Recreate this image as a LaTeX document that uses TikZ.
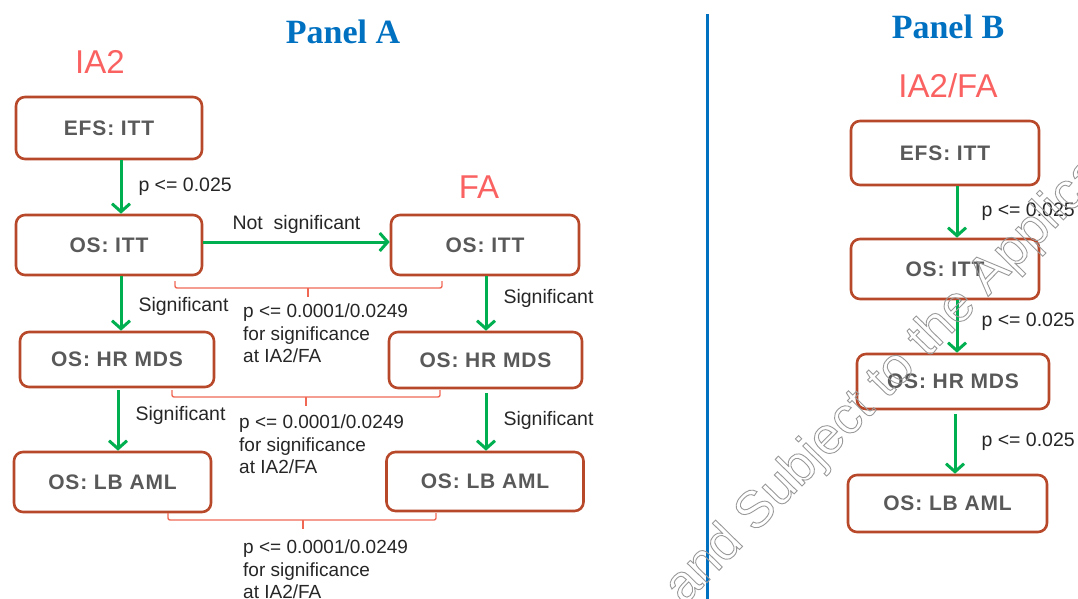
\documentclass[tikz,border=0pt]{standalone}
\usepackage{fontspec}
\setmainfont{Liberation Sans}
\newfontfamily\boxfont[LetterSpace=4]{Liberation Sans}
\newfontfamily\titlefont{Liberation Serif}
\usetikzlibrary{arrows.meta}
\definecolor{myblue}{RGB}{0, 112, 192}
\definecolor{mypink}{RGB}{250, 98, 98}
\definecolor{mybrown}{RGB}{184, 72, 42}
\definecolor{mygreen}{RGB}{0, 176, 80}
\definecolor{mysalmon}{RGB}{240, 104, 84}
\definecolor{mygray}{RGB}{89, 89, 89}
\definecolor{mytext}{RGB}{38, 38, 38}

\begin{document}
\begin{tikzpicture}[x=1pt, y=-1pt,
    box/.style={draw=mybrown, line width=2.6pt, rounded corners=9pt, fill=white, text=mygray, inner sep=0pt, font=\boxfont\bfseries\fontsize{21}{24}\selectfont},
    flow/.style={draw=mygreen, line width=3pt, -{Straight Barb[length=8pt, width=18pt]}},
    lbl/.style={inner sep=0pt, text=mytext, font=\fontsize{19.5}{22}\selectfont},
    note/.style={inner sep=0pt, text=mytext, align=left, font=\fontsize{19}{22.5}\selectfont},
    brk/.style={draw=mysalmon, line width=1.4pt, rounded corners=2pt},
    stage/.style={text=mypink, font=\fontsize{33}{36}\selectfont},
    panel/.style={text=myblue, font=\titlefont\bfseries\fontsize{34}{38}\selectfont}]
        \useasboundingbox (0,0) rectangle (1078,599);
        \clip (0,0) rectangle (1078,599);

        % Titles
        \node[panel] (titleA) at (343,32) {Panel A};
        \node[panel] (titleB) at (948,27) {Panel B};
        \node[stage] (ia2) at (100,62) {IA2};
        \node[stage] (fa) at (479,187) {FA};
        \node[stage] (ia2fa) at (948,86) {IA2/FA};

        % Panel A - IA2 column
        \node[box, minimum width=186pt, minimum height=62pt] (efsL) at (109,128) {EFS: ITT};
        \node[box, minimum width=186pt, minimum height=60pt] (osittL) at (109,245) {OS: ITT};
        \node[box, minimum width=194pt, minimum height=55pt] (hrmdsL) at (117,359.5) {OS: HR MDS};
        \node[box, minimum width=197pt, minimum height=60pt] (lbamlL) at (112.5,482) {OS: LB AML};

        % Panel A - FA column
        \node[box, minimum width=188pt, minimum height=60pt] (osittR) at (485,245) {OS: ITT};
        \node[box, minimum width=193pt, minimum height=56pt] (hrmdsR) at (485.5,360) {OS: HR MDS};
        \node[box, minimum width=197pt, minimum height=59pt] (lbamlR) at (485,481.5) {OS: LB AML};

        % Panel A - arrows
        \draw[flow] ([xshift=12pt]efsL.south) -- node[lbl, right=16pt] (pA) {p <= 0.025} ([xshift=12pt]osittL.north);
        \draw[flow] ([yshift=3pt]osittL.east) -- node[lbl, above=7pt] (nsA) {Not\ \ significant} ([yshift=3pt]osittR.west);
        \draw[flow] ([xshift=12pt]osittL.south) -- node[lbl, right=16pt, pos=0.55] (sigL1) {Significant} ([xshift=4pt]hrmdsL.north);
        \draw[flow, shorten <=2pt] ([xshift=1pt]hrmdsL.south) -- node[lbl, right=16pt, pos=0.43] (sigL2) {Significant} ([xshift=5.5pt]lbamlL.north);
        \draw[flow] ([xshift=1pt]osittR.south) -- node[lbl, right=16pt, pos=0.4] (sigR1) {Significant} ([xshift=0.5pt]hrmdsR.north);
        \draw[flow, shorten <=4pt] ([xshift=0.5pt]hrmdsR.south) -- node[lbl, right=16pt, pos=0.5] (sigR2) {Significant} ([xshift=1pt]lbamlR.north);

        % Panel A - brackets between IA2 and FA
        \draw[brk] (175,281) -- (175,288) -- (442,288) -- (442,281);
        \draw[brk] (308,288) -- (308,297) coordinate (tipA);
        \draw[brk] (172,390) -- (172,397) -- (440,397) -- (440,390);
        \draw[brk] (306,397) -- (306,406) coordinate (tipB);
        \draw[brk] (168,513) -- (168,520) -- (436,520) -- (436,513);
        \draw[brk] (303,520) -- (303,529) coordinate (tipC);
        \node[note, anchor=north west] (noteA) at (243,304) {p <= 0.0001/0.0249\\for significance\\at IA2/FA};
        \node[note, anchor=north west] (noteB) at (239,415) {p <= 0.0001/0.0249\\for significance\\at IA2/FA};
        \node[note, anchor=north west] (noteC) at (243,540) {p <= 0.0001/0.0249\\for significance\\at IA2/FA};

        % Divider
        \draw[myblue, line width=3pt] (707,14) -- (707,599);

        % Panel B
        \node[box, minimum width=188pt, minimum height=64pt] (efsB) at (945,153) {EFS: ITT};
        \node[box, minimum width=188pt, minimum height=60pt] (osittB) at (945,269) {OS: ITT};
        \node[box, minimum width=192pt, minimum height=55pt] (hrmdsB) at (953,381.5) {OS: HR MDS};
        \node[box, minimum width=199pt, minimum height=57pt] (lbamlB) at (947.5,503.5) {OS: LB AML};
        \draw[flow] ([xshift=12pt]efsB.south) -- node[lbl, right=23pt] (pB1) {p <= 0.025} ([xshift=12pt]osittB.north);
        \draw[flow] ([xshift=12pt]osittB.south) -- node[lbl, right=23pt, pos=0.4] (pB2) {p <= 0.025} ([xshift=4pt]hrmdsB.north);
        \draw[flow, shorten <=4pt] ([xshift=2pt]hrmdsB.south) -- node[lbl, right=25pt, pos=0.5] (pB3) {p <= 0.025} ([xshift=7.5pt]lbamlB.north);

        % Watermark
        \node[rotate=45.5, anchor=base west, inner sep=0pt, text=black!40, font=\fontsize{52}{60}\selectfont] (mark) at (684,606) {\special{pdf:literal direct 1 Tr 0.9 w}and Subject to the Applica\special{pdf:literal direct 0 Tr}};
    \end{tikzpicture}
\end{document}
